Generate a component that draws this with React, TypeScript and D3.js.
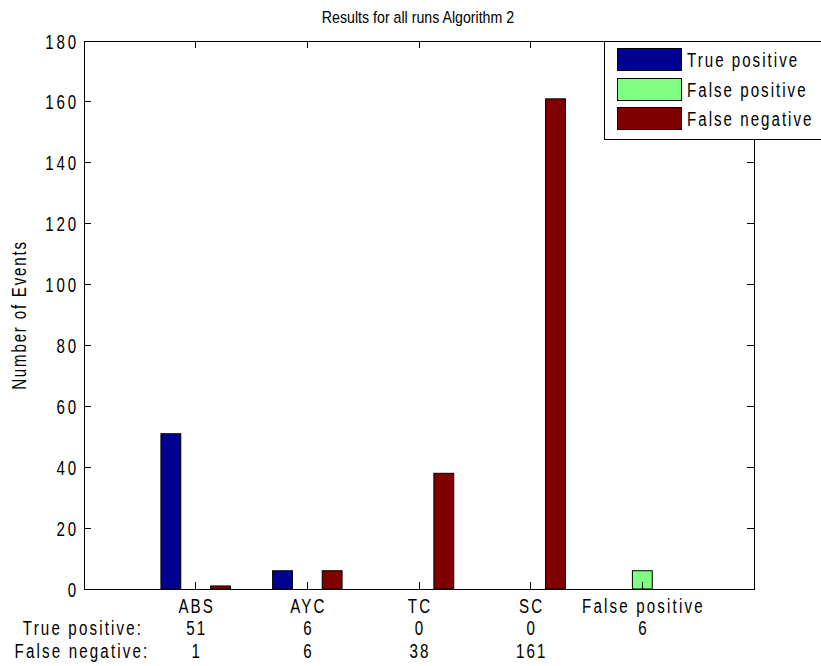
import React from "react";
import * as d3 from "d3";

// Event counts per category, by outcome
const categories = ["ABS", "AYC", "TC", "SC", "False positive"];
const truePositive = [51, 6, 0, 0, 0];
const falsePositive = [0, 0, 0, 0, 6];
const falseNegative = [1, 6, 38, 161, 0];

// Summary rows printed under the axis
const rowTitles = ["True positive:", "False negative:"];
const truePositiveLabels = ["51", "6", "0", "0", "6"];
const falseNegativeLabels = ["1", "6", "38", "161", ""];

const seriesNames = ["True positive", "False positive", "False negative"];
const seriesColors = ["#000090", "#80ff80", "#800000"];
const yTicks = [0, 20, 40, 60, 80, 100, 120, 140, 160, 180];

const W = 821;
const H = 666;
const FONT = "'Liberation Sans', Arial, Helvetica, sans-serif";

// Tall, condensed label text: glyphs are drawn large and squeezed horizontally
const SX = 0.72;
const FS = 21;

type LabelProps = {
  x: number;
  y: number;
  anchor?: "start" | "middle" | "end";
  ls?: number;
  rotate?: number;
  fontSize?: number;
  sx?: number;
  children: React.ReactNode;
};

function Label({ x, y, anchor = "middle", ls = 3, rotate = 0, fontSize = FS, sx = SX, children }: LabelProps) {
  const rot = rotate ? ` rotate(${rotate})` : "";
  return (
    <text
      transform={`translate(${x},${y})${rot} scale(${sx},1)`}
      x={0}
      y={0}
      textAnchor={anchor}
      fontSize={fontSize}
      letterSpacing={ls}
      fill="#000"
    >
      {children}
    </text>
  );
}

export default function App() {
  const left = 84;
  const right = 754;
  const top = 41;
  const bottom = 589;

  const x = d3.scaleLinear().domain([0, 6]).range([left, right]);
  const y = d3.scaleLinear().domain([0, 180]).range([bottom, top]);

  const series = [truePositive, falsePositive, falseNegative];
  const groupWidth = Math.min(0.8, 3 / (3 + 1.5));
  const barWidth = (groupWidth / 3) * 0.8;
  const tickLen = 7;

  const bars: React.ReactNode[] = [];
  series.forEach((vals, s) => {
    const offset = (s - 1) * (groupWidth / 3);
    vals.forEach((v, i) => {
      if (v <= 0) return;
      const cx = i + 1 + offset;
      const x0 = x(cx - barWidth / 2);
      const x1 = x(cx + barWidth / 2);
      bars.push(
        <rect
          key={`b-${s}-${i}`}
          x={x0}
          y={y(v)}
          width={x1 - x0}
          height={y(0) - y(v)}
          fill={seriesColors[s]}
          stroke="#000"
          strokeWidth={1}
        />
      );
    });
  });

  const legendX = 604;
  const legendBottom = 139;
  const rowCenters = [59, 89, 118];
  // half of the trailing letter spacing, so centred labels sit on their tick
  const lsShift = (3 * SX) / 2;

  return (
    <svg
      width={W}
      height={H}
      style={{ position: "absolute", left: 0, top: 0, background: "#fff" }}
      fontFamily={FONT}
    >
      <rect x={0} y={0} width={W} height={H} fill="#fff" />
      {/* title */}
      <Label x={418} y={23} fontSize={16.5} sx={0.86} ls={0}>
        Results for all runs Algorithm 2
      </Label>

      {/* plot area */}
      <rect x={left} y={top} width={right - left} height={bottom - top} fill="#fff" />
      {bars}

      {/* axes box */}
      <rect
        x={left}
        y={top}
        width={right - left}
        height={bottom - top}
        fill="none"
        stroke="#000"
        strokeWidth={1}
        shapeRendering="crispEdges"
      />

      {/* y ticks, both sides */}
      {yTicks.map((t) => (
        <g key={`yt-${t}`} shapeRendering="crispEdges">
          <line x1={left} x2={left + tickLen} y1={y(t)} y2={y(t)} stroke="#000" />
          <line x1={right} x2={right - tickLen} y1={y(t)} y2={y(t)} stroke="#000" />
        </g>
      ))}
      {yTicks.map((t) => (
        <Label key={`yl-${t}`} x={79} y={y(t) + 7.5} anchor="end" ls={4}>
          {t}
        </Label>
      ))}

      {/* x ticks, top and bottom */}
      {categories.map((c, i) => (
        <g key={`xt-${c}`} shapeRendering="crispEdges">
          <line x1={x(i + 1)} x2={x(i + 1)} y1={bottom} y2={bottom - tickLen} stroke="#000" />
          <line x1={x(i + 1)} x2={x(i + 1)} y1={top} y2={top + tickLen} stroke="#000" />
        </g>
      ))}

      {/* category labels and summary rows */}
      {categories.map((c, i) => (
        <g key={`xl-${c}`}>
          <Label x={x(i + 1) + lsShift} y={613}>{c}</Label>
          <Label x={x(i + 1) + lsShift} y={635}>{truePositiveLabels[i]}</Label>
          <Label x={x(i + 1) + lsShift} y={658}>{falseNegativeLabels[i]}</Label>
        </g>
      ))}
      <Label x={83} y={635}>{rowTitles[0]}</Label>
      <Label x={82} y={658}>{rowTitles[1]}</Label>

      {/* y axis label */}
      <Label x={26} y={(top + bottom) / 2} rotate={-90} ls={2.5}>
        Number of Events
      </Label>

      {/* legend */}
      <rect
        x={legendX}
        y={top}
        width={W - legendX + 10}
        height={legendBottom - top}
        fill="#fff"
        stroke="#000"
        strokeWidth={1}
        shapeRendering="crispEdges"
      />
      {seriesNames.map((name, s) => (
        <g key={`lg-${name}`}>
          <rect
            x={617}
            y={rowCenters[s] - 11}
            width={64}
            height={22}
            fill={seriesColors[s]}
            stroke="#000"
            strokeWidth={1}
            shapeRendering="crispEdges"
          />
          <Label x={687} y={rowCenters[s] + 7.5} anchor="start" ls={2.8}>
            {name}
          </Label>
        </g>
      ))}
    </svg>
  );
}
